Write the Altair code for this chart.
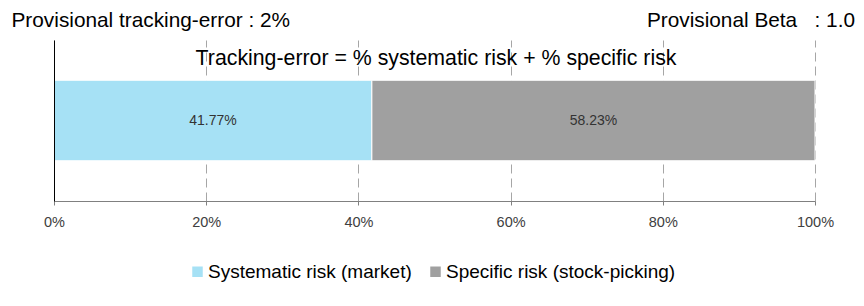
import altair as alt
import pandas as pd

# ---- data ----
categories = ["Systematic risk (market)", "Specific risk (stock-picking)"]
values = [0.4177, 0.5823]
labels = ["41.77%", "58.23%"]
colors = ["#A6E1F5", "#A0A0A0"]
tick_values = [0, 0.2, 0.4, 0.6, 0.8, 1.0]
top_left_text = "Provisional tracking-error : 2%"
top_right_text = "Provisional Beta\u00a0\u00a0\u00a0: 1.0"
title_text = "Tracking-error = % systematic risk + % specific risk"

FONT = "Liberation Sans"

df = pd.DataFrame({
    "category": categories,
    "value": values,
    "label": labels,
    "order": list(range(len(categories))),
    "row": ["TE"] * len(categories),
})

base = alt.Chart(df).transform_stack(
    stack="value",
    groupby=["row"],
    as_=["x0", "x1"],
    sort=[alt.SortField("order", order="ascending")],
).transform_calculate(mid="(datum.x0 + datum.x1) / 2")

bars = base.mark_bar(stroke="white", strokeWidth=1).encode(
    x=alt.X(
        "x0:Q",
        scale=alt.Scale(domain=[0, 1], nice=False),
        axis=alt.Axis(
            format=".0%", values=tick_values, grid=True, gridDash=[9, 5],
            gridColor="#A6A6A6", domainColor="#808080", tickColor="#808080",
            tickSize=4, labelFontSize=14.5, labelColor="#404040", labelFont=FONT,
            labelPadding=10, labelFlush=False, title=None, zindex=0,
        ),
    ),
    x2="x1:Q",
    y=alt.Y(
        "row:N",
        scale=alt.Scale(paddingInner=0.5, paddingOuter=0.25),
        axis=alt.Axis(labels=False, ticks=False, grid=False, domainColor="black",
                      title=None, zindex=1),
    ),
    color=alt.Color(
        "category:N",
        scale=alt.Scale(domain=categories, range=colors),
        sort=categories,
        legend=alt.Legend(
            orient="none", legendX=134, legendY=222, direction="horizontal",
            title=None, symbolType="square", symbolSize=110, symbolStrokeWidth=0,
            labelFontSize=19, labelFont=FONT, labelColor="black", labelLimit=0,
            columnPadding=14, labelOffset=1, padding=0,
        ),
    ),
)

bar_labels = base.mark_text(fontSize=14, font=FONT, color="#333333").encode(
    x="mid:Q", y="row:N", text="label:N"
)

t_left = alt.Chart(pd.DataFrame({"t": [top_left_text]})).mark_text(
    align="left", baseline="alphabetic", fontSize=20.8, font=FONT, color="black"
).encode(x=alt.value(-42.5), y=alt.value(-13.2), text="t:N")

t_right = alt.Chart(pd.DataFrame({"t": [top_right_text]})).mark_text(
    align="right", baseline="alphabetic", fontSize=20.8, font=FONT, color="black"
).encode(x=alt.value(801), y=alt.value(-13.2), text="t:N")

t_title = alt.Chart(pd.DataFrame({"t": [title_text]})).mark_text(
    align="center", baseline="alphabetic", fontSize=21.3, font=FONT, color="black"
).encode(x=alt.value(382), y=alt.value(25), text="t:N")

chart = alt.layer(bars, bar_labels, t_left, t_right, t_title).properties(
    width=761,
    height=161,
    autosize=alt.AutoSizeParams(type="none"),
    padding={"left": 46, "top": 32, "right": 41, "bottom": 97},
).configure_view(stroke=None)

chart.save("out.html", embed_options={"renderer": "svg", "actions": False})
